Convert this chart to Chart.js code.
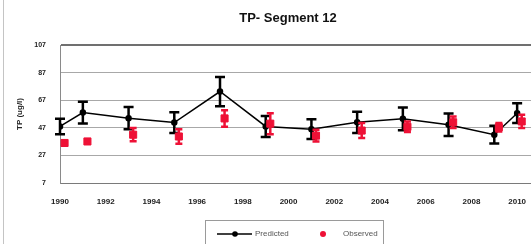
<!DOCTYPE html>
<html>
<head>
<meta charset="utf-8">
<script src="https://cdn.jsdelivr.net/npm/chart.js@4"></script>
<style>
  body { margin: 0; overflow: hidden; background: #fff; }
  canvas { display: block; }
</style>
</head>
<body>
<canvas id="tpChart" width="546" height="244"></canvas>
<script>
// data
const years = [1990, 1991, 1993, 1995, 1997, 1999, 2001, 2003, 2005, 2007, 2009, 2010];
const predicted = [48, 58, 54, 50.8, 73.3, 48, 46, 51, 53.5, 49.2, 42, 57.6];
const predictedErr = [5.6, 7.8, 8, 7.5, 10.6, 7.6, 7.2, 7.7, 8.2, 8.2, 6.4, 7.2];
const obsYears = [1990.2, 1991.2, 1993.2, 1995.2, 1997.2, 1999.2, 2001.2, 2003.2, 2005.2, 2007.2, 2009.2, 2010.2];
const observed = [36, 37.1, 42, 40.7, 53.8, 50, 41.3, 45, 47.7, 51, 47.4, 51.6];
const observedErr = [0, 0, 4.8, 5.3, 6, 7.6, 4.2, 5.4, 3.8, 4.2, 3, 4.8];
const xTicks = [1990, 1992, 1994, 1996, 1998, 2000, 2002, 2004, 2006, 2008, 2010];
const yTicks = [7, 27, 47, 67, 87, 107];

const RED = "#ee1136";

// error bars, drawn just before each dataset's own points
const errorBars = {
    id: "errorBars",
    beforeDatasetDraw(chart, args) {
        let ds = chart.data.datasets[args.index];
        if (!ds.errors) return;
        let ctx = chart.ctx;
        let xs = chart.scales.x, ys = chart.scales.y;
        ctx.save();
        ctx.strokeStyle = ds.errorColor;
        ctx.lineWidth = 2.5;
        ds.data.forEach((p, i) => {
            let e = ds.errors[i];
            if (!e) return;
            let x = xs.getPixelForValue(p.x);
            let top = ys.getPixelForValue(p.y + e);
            let bot = ys.getPixelForValue(p.y - e);
            let w = ds.capWidth;
            ctx.beginPath();
            ctx.moveTo(x, top); ctx.lineTo(x, bot);
            ctx.moveTo(x - w, top); ctx.lineTo(x + w, top);
            ctx.moveTo(x - w, bot); ctx.lineTo(x + w, bot);
            ctx.stroke();
        });
        ctx.restore();
    }
};

// title, boxed legend and outer frame line
const decorations = {
    id: "decorations",
    afterDraw(chart) {
        let ctx = chart.ctx;
        ctx.save();
        ctx.strokeStyle = "#c4c4c4";
        ctx.lineWidth = 1;
        ctx.beginPath();
        ctx.moveTo(3.5, 0); ctx.lineTo(3.5, 244);
        ctx.stroke();

        ctx.fillStyle = "#111";
        ctx.font = "bold 13px 'Liberation Sans', Arial";
        ctx.textAlign = "center";
        ctx.textBaseline = "middle";
        ctx.fillText("TP- Segment 12", 288, 18);

        // legend box
        ctx.strokeStyle = "#9a9a9a";
        ctx.strokeRect(205.5, 220.5, 178, 26);
        ctx.strokeStyle = "#000";
        ctx.lineWidth = 1.5;
        ctx.beginPath();
        ctx.moveTo(217, 234); ctx.lineTo(252, 234);
        ctx.stroke();
        ctx.fillStyle = "#000";
        ctx.beginPath();
        ctx.arc(235, 234, 2.8, 0, Math.PI * 2);
        ctx.fill();
        ctx.fillStyle = RED;
        ctx.beginPath();
        ctx.arc(323, 234, 3, 0, Math.PI * 2);
        ctx.fill();
        ctx.fillStyle = "#555";
        ctx.font = "8px 'Liberation Sans', Arial";
        ctx.textAlign = "left";
        ctx.fillText("Predicted", 255, 234);
        ctx.fillText("Observed", 343, 234);
        ctx.restore();
    }
};

let ctx = document.getElementById("tpChart").getContext("2d");
new Chart(ctx, {
    type: "line",
    data: {
        datasets: [
            {
                label: "Predicted",
                data: years.map((y, i) => ({ x: y, y: predicted[i] })),
                errors: predictedErr,
                errorColor: "#000",
                capWidth: 5,
                borderColor: "#000",
                backgroundColor: "#000",
                borderWidth: 1.5,
                pointRadius: 2.5,
                pointStyle: "circle",
                order: 1
            },
            {
                label: "Observed",
                data: obsYears.map((y, i) => ({ x: y, y: observed[i] })),
                errors: observedErr,
                errorColor: RED,
                capWidth: 3.5,
                showLine: false,
                borderColor: RED,
                backgroundColor: RED,
                pointRadius: 5,
                pointStyle: "rect",
                order: 0
            }
        ]
    },
    options: {
        responsive: false,
        animation: false,
        layout: { padding: { left: 0, right: 0, top: 45, bottom: 0 } },
        plugins: {
            legend: { display: false },
            title: { display: false },
            tooltip: { enabled: false }
        },
        scales: {
            x: {
                type: "linear",
                min: 1990,
                max: 2011,
                afterBuildTicks: s => { s.ticks = xTicks.map(v => ({ value: v })); },
                afterFit: s => { s.height = 61; },
                grid: { display: false },
                border: { display: true, color: "#7a7a7a", width: 1 },
                ticks: {
                    padding: 6,
                    color: "#222",
                    font: { family: "'Liberation Sans', Arial", size: 8, weight: "bold" },
                    maxRotation: 0,
                    callback: v => String(v)
                }
            },
            y: {
                min: 7,
                max: 107,
                afterBuildTicks: s => { s.ticks = yTicks.map(v => ({ value: v })); },
                afterFit: s => { s.width = 60; },
                grid: {
                    drawTicks: false,
                    color: c => c.tick && c.tick.value === 107 ? "#707070" : "#a8a8a8",
                    lineWidth: c => c.tick && c.tick.value === 107 ? 2 : 1
                },
                border: { display: true, color: "#8a8a8a", width: 1 },
                ticks: {
                    padding: 14,
                    color: "#222",
                    font: { family: "'Liberation Sans', Arial", size: 7, weight: "bold" }
                },
                title: {
                    display: true,
                    text: "TP (ug/l)",
                    color: "#222",
                    font: { family: "'Liberation Sans', Arial", size: 8, weight: "bold" },
                    padding: { top: 15, bottom: 0 }
                }
            }
        }
    },
    plugins: [errorBars, decorations]
});
</script>
</body>
</html>
